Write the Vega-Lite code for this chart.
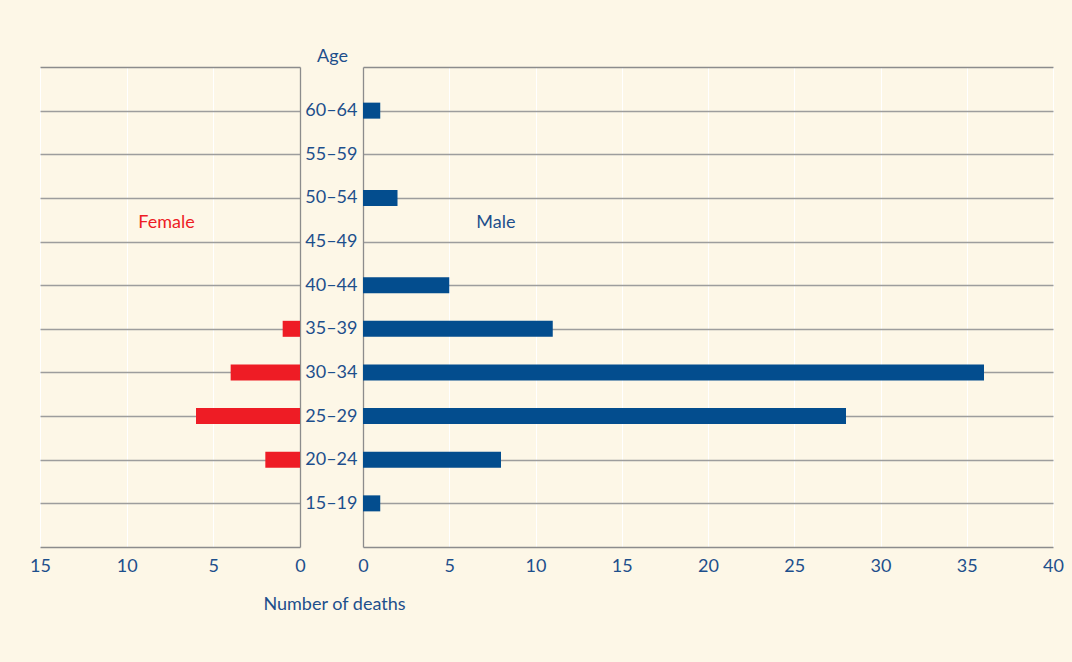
{
  "$schema": "https://vega.github.io/schema/vega-lite/v6.json",
  "autosize": {"type": "pad"},
  "padding": {"left": 29, "top": 47, "right": 8, "bottom": 49},
  "background": "#fdf7e7",
  "config": {
    "view": {"stroke": null},
    "font": "Lato",
    "axis": {
      "labelColor": "#1d4f8c",
      "titleColor": "#1d4f8c",
      "labelFontSize": 18,
      "titleFontSize": 18,
      "labelFont": "Lato",
      "titleFont": "Lato",
      "titleFontWeight": "normal",
      "domainColor": "#8c8c8c",
      "domainWidth": 1.3,
      "gridColor": "#9d9d9d",
      "gridWidth": 1.3,
      "gridOpacity": 1
    }
  },
  "datasets": {
    "deaths": [
      {"age": "60–64", "sex": "Male", "deaths": 1},
      {"age": "55–59", "sex": "Male", "deaths": 0},
      {"age": "50–54", "sex": "Male", "deaths": 2},
      {"age": "45–49", "sex": "Male", "deaths": 0},
      {"age": "40–44", "sex": "Male", "deaths": 5},
      {"age": "35–39", "sex": "Male", "deaths": 11},
      {"age": "30–34", "sex": "Male", "deaths": 36},
      {"age": "25–29", "sex": "Male", "deaths": 28},
      {"age": "20–24", "sex": "Male", "deaths": 8},
      {"age": "15–19", "sex": "Male", "deaths": 1},
      {"age": "60–64", "sex": "Female", "deaths": 0},
      {"age": "55–59", "sex": "Female", "deaths": 0},
      {"age": "50–54", "sex": "Female", "deaths": 0},
      {"age": "45–49", "sex": "Female", "deaths": 0},
      {"age": "40–44", "sex": "Female", "deaths": 0},
      {"age": "35–39", "sex": "Female", "deaths": 1},
      {"age": "30–34", "sex": "Female", "deaths": 4},
      {"age": "25–29", "sex": "Female", "deaths": 6},
      {"age": "20–24", "sex": "Female", "deaths": 2},
      {"age": "15–19", "sex": "Female", "deaths": 0}
    ],
    "labels": [
      {"label": "Female", "sex": "Female", "x": 7.7, "age": "45–49"},
      {"label": "Male", "sex": "Male", "x": 7.7, "age": "45–49"}
    ]
  },
  "hconcat": [
    {
      "width": 260,
      "height": 480,
      "encoding": {
        "y": {
          "field": "age", "type": "ordinal",
          "scale": {"type": "point", "padding": 1, "domain": ["60–64","55–59","50–54","45–49","40–44","35–39","30–34","25–29","20–24","15–19"]},
          "axis": {"orient": "right", "labels": false, "ticks": false, "domain": true, "grid": true, "title": null}
        }
      },
      "layer": [
        {
          "data": {"name": "deaths"},
          "transform": [{"filter": "datum.sex === 'Female' && datum.deaths > 0"}],
          "mark": {"type": "bar", "height": 16, "color": "#ee1c25"},
          "encoding": {
            "x": {
              "field": "deaths", "type": "quantitative",
              "scale": {"domain": [0, 15], "reverse": true, "nice": false},
              "axis": {
                "values": [0, 5, 10, 15], "ticks": false, "labelPadding": 10, "labelFlush": false,
                "grid": true, "gridColor": "#ffffff", "gridWidth": 1,
                "title": "Number of deaths", "titleX": 294, "titleY": 57, "titleAlign": "center", "titleBaseline": "middle", "titleAnchor": null
              }
            }
          }
        },
        {
          "data": {"name": "labels"},
          "transform": [{"filter": "datum.sex === 'Female'"}],
          "mark": {"type": "text", "color": "#ee1c25", "fontSize": 18, "dy": -19, "font": "Lato"},
          "encoding": {
            "x": {
              "field": "x", "type": "quantitative",
              "axis": {"orient": "top", "labels": false, "ticks": false, "domain": true, "grid": false, "title": null}
            },
            "text": {"field": "label"}
          }
        }
      ],
      "resolve": {"axis": {"x": "independent"}}
    },
    {
      "width": 690,
      "height": 480,
      "encoding": {
        "y": {
          "field": "age", "type": "ordinal",
          "scale": {"type": "point", "padding": 1, "domain": ["60–64","55–59","50–54","45–49","40–44","35–39","30–34","25–29","20–24","15–19"]},
          "axis": {
            "orient": "left", "ticks": false, "domain": true, "grid": true, "labelPadding": 6,
            "title": "Age", "titleAngle": 0, "titleX": -31, "titleY": -11, "titleAlign": "center", "titleBaseline": "middle"
          }
        }
      },
      "layer": [
        {
          "data": {"name": "deaths"},
          "transform": [{"filter": "datum.sex === 'Male' && datum.deaths > 0"}],
          "mark": {"type": "bar", "height": 16, "color": "#034d8e"},
          "encoding": {
            "x": {
              "field": "deaths", "type": "quantitative",
              "scale": {"domain": [0, 40], "nice": false},
              "axis": {
                "values": [0, 5, 10, 15, 20, 25, 30, 35, 40], "ticks": false, "labelPadding": 10, "labelFlush": false,
                "grid": true, "gridColor": "#ffffff", "gridWidth": 1, "title": null
              }
            }
          }
        },
        {
          "data": {"name": "labels"},
          "transform": [{"filter": "datum.sex === 'Male'"}],
          "mark": {"type": "text", "color": "#1d4f8c", "fontSize": 18, "dy": -19, "font": "Lato"},
          "encoding": {
            "x": {
              "field": "x", "type": "quantitative",
              "axis": {"orient": "top", "labels": false, "ticks": false, "domain": true, "grid": false, "title": null}
            },
            "text": {"field": "label"}
          }
        }
      ],
      "resolve": {"axis": {"x": "independent"}}
    }
  ],
  "spacing": 63,
  "bounds": "flush"
}
